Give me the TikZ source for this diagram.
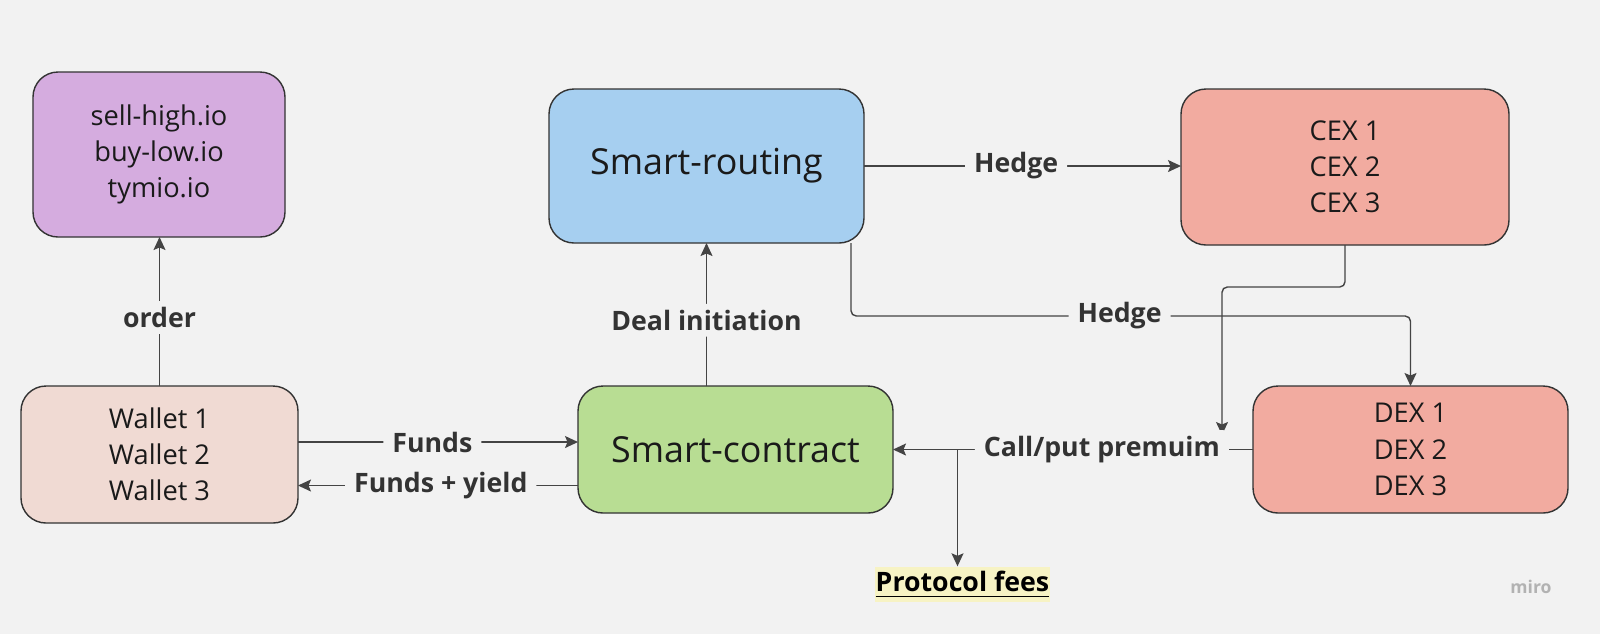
\documentclass[tikz,border=0pt]{standalone}
\usepackage{fontspec}
\setmainfont{Open Sans}
\usepackage{tikz}
\usepackage{xcolor}
\usetikzlibrary{arrows.meta}
\definecolor{bgcol}{HTML}{F2F2F2}
\definecolor{sitecol}{HTML}{D5ACDF}
\definecolor{walletcol}{HTML}{F0DAD3}
\definecolor{routecol}{HTML}{A6CFF0}
\definecolor{contractcol}{HTML}{B8DD93}
\definecolor{exchcol}{HTML}{F2ABA0}
\definecolor{feecol}{HTML}{F7F3C4}
\definecolor{linecol}{HTML}{333333}
\definecolor{arrcol}{HTML}{444444}
\definecolor{lblcol}{HTML}{333333}
\definecolor{boxtext}{HTML}{1A1A1A}

\begin{document}
\begin{tikzpicture}[x=1cm,y=1cm,
  box/.style={draw=linecol, line width=0.4pt, rounded corners=0.25cm, align=center,
    text=boxtext, inner sep=0pt, outer sep=0pt, font=\fontsize{7.75}{10.3}\selectfont},
  bigtext/.style={font=\fontsize{10.2}{12}\selectfont},
  lbl/.style={fill=bgcol, text=lblcol, font=\bfseries\fontsize{7.6}{8.5}\selectfont,
    inner xsep=0.9mm, inner ysep=0.6mm},
  arr/.style={draw=arrcol, line width=0.4pt, rounded corners=1.5pt,
    -{Stealth[length=1.3mm,width=1.2mm,inset=0.25mm]}}]
\fill[bgcol] (0,0) rectangle (16,-6.34);
% boxes
\node[box, fill=sitecol, minimum width=2.52cm, minimum height=1.65cm] (sites) at (1.59,-1.545) {sell-high.io\\buy-low.io\\tymio.io};
\node[box, fill=walletcol, minimum width=2.77cm, minimum height=1.37cm] (wallets) at (1.595,-4.545) {Wallet 1\\Wallet 2\\Wallet 3};
\node[box, bigtext, fill=routecol, minimum width=3.15cm, minimum height=1.54cm] (routing) at (7.065,-1.66) {Smart-routing};
\node[box, bigtext, fill=contractcol, minimum width=3.15cm, minimum height=1.27cm] (contract) at (7.355,-4.495) {Smart-contract};
\node[box, fill=exchcol, minimum width=3.28cm, minimum height=1.56cm] (cex) at (13.45,-1.67) {CEX 1\\CEX 2\\CEX 3};
\node[box, fill=exchcol, minimum width=3.15cm, minimum height=1.27cm] (dex) at (14.105,-4.495) {DEX 1\\DEX 2\\DEX 3};
\node[fill=feecol, text=black, font=\bfseries\fontsize{7.6}{8.5}\selectfont, minimum width=1.75cm, minimum height=0.35cm, inner sep=0pt] (fees) at (9.625,-5.845) {\underline{Protocol fees}};
\node[text=black!30, font=\bfseries\fontsize{5}{6}\selectfont] (miro) at (15.31,-5.87) {miro};
\coordinate (premtip) at (12.22,-4.35);
\coordinate (feestop) at ([xshift=-0.5mm]fees.north);
% connectors
\draw[arr] (wallets.north) -- node[lbl, pos=0.46] {order} (wallets.north |- sites.south);
\draw[arr] (routing.south |- contract.north) -- node[lbl, pos=0.46] {Deal initiation} (routing.south);
\draw[arr] (routing.east) -- node[lbl, pos=0.48] {Hedge} (routing.east -| cex.west);
\draw[arr] ([xshift=-1.3mm]routing.south east) |- node[lbl, pos=0.74] {Hedge} ([yshift=0.7cm]dex.north) -- (dex.north);
\draw[arr] (cex.south) -- ++(0,-0.42) -| (premtip);
\draw[arr] (dex.west) -- node[lbl, pos=0.42] {Call/put premuim} (contract.east);
\draw[arr] (feestop |- contract.east) -- (feestop);
\draw[arr] ([yshift=1.25mm]wallets.east) -- node[lbl, pos=0.48] {Funds} ([yshift=1.25mm]wallets.east -| contract.west);
\draw[arr] ([yshift=-3.6mm]contract.west) -- node[lbl, pos=0.49] {Funds + yield} ([yshift=-3.6mm]contract.west -| wallets.east);
\end{tikzpicture}
\end{document}
